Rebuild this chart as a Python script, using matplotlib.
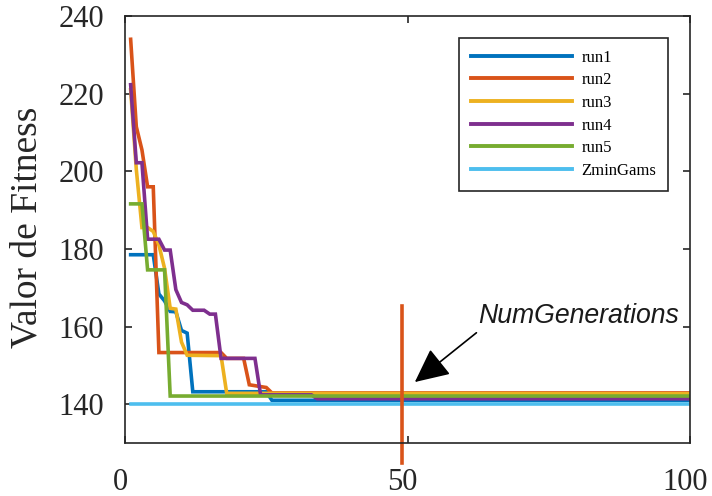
import matplotlib
matplotlib.use("Agg")
import matplotlib.pyplot as plt
import matplotlib.transforms as mtransforms

# ---- data ----
run1_gen = [1, 5, 6, 7, 8, 9, 10, 11, 12, 25, 26, 100]
run1_fit = [178.5, 178.5, 168.4, 166.6, 163.9, 163.8, 159.0, 158.3, 143.2, 143.2, 141.0, 141.0]

run2_gen = [1, 2, 3, 4, 5, 6, 17, 18, 21, 22, 25, 26, 100]
run2_fit = [234.0, 211.5, 205.5, 196.0, 196.0, 153.3, 153.3, 151.8, 151.8, 145.0, 144.3, 142.9, 142.9]

run3_gen = [1, 2, 3, 4, 5, 6, 7, 8, 9, 10, 11, 17, 18, 100]
run3_fit = [221.0, 200.5, 185.5, 185.5, 184.5, 181.0, 175.0, 164.7, 164.5, 156.0, 152.6, 152.5, 142.8, 142.7]

run4_gen = [1, 2, 3, 4, 6, 7, 8, 9, 10, 11, 12, 14, 15, 16, 17, 23, 24, 33, 34, 100]
run4_fit = [222.3, 202.2, 202.2, 182.5, 182.5, 179.7, 179.7, 169.5, 166.2, 165.6, 164.2, 164.2, 163.2, 163.2,
            151.8, 151.8, 142.4, 142.4, 141.4, 141.4]

run5_gen = [1, 3, 4, 7, 8, 100]
run5_fit = [191.6, 191.6, 174.6, 174.6, 142.1, 142.1]

zmin_gen = [1, 100]
zmin_fit = [140.0, 140.0]

labels = ["run1", "run2", "run3", "run4", "run5", "ZminGams"]
colors = ["#0072BD", "#D95319", "#EDB120", "#7E2F8E", "#77AC30", "#4DBEEE"]

num_generations = 49
marker_line_y = [124.8, 165.4]
annot_text = "NumGenerations"

x_ticks = [0, 50, 100]
y_ticks = [140, 160, 180, 200, 220, 240]

# ---- figure ----
fig = plt.figure(figsize=(7.12, 4.96), dpi=100)
ax = fig.add_axes([125/712, 1 - 443/496, (690 - 125)/712, (443 - 16)/496])

series = [(run1_gen, run1_fit), (run2_gen, run2_fit), (run3_gen, run3_fit),
          (run4_gen, run4_fit), (run5_gen, run5_fit), (zmin_gen, zmin_fit)]
for (g, f), lab, c in zip(series, labels, colors):
    ax.plot(g, f, color=c, lw=2.6, label=lab, solid_joinstyle="miter")

ax.plot([num_generations, num_generations], marker_line_y, color="#D95319", lw=2.6, clip_on=False)

ax.annotate("", xy=(51.3, 145.7), xytext=(62.2, 158.4),
            arrowprops=dict(arrowstyle="-|>,head_length=1.25,head_width=0.6", color="black", lw=1.2,
                            shrinkA=0, shrinkB=0, mutation_scale=17))
ax.text(62.5, 162.8, annot_text, fontsize=19.2, fontstyle="italic", family="Liberation Sans",
        va="center", ha="left", color="#1a1a1a")

ax.set_xlim(0, 100)
ax.set_ylim(130, 240)
ax.set_xticks(x_ticks)
ax.set_yticks(y_ticks)
ax.tick_params(direction="in", length=5, width=1.2, top=True, right=True,
               labelsize=22, colors="#262626")
ax.tick_params(axis="y", pad=15)
ax.tick_params(axis="x", pad=18)
for lab in ax.get_xticklabels() + ax.get_yticklabels():
    lab.set_family("Liberation Serif")
offset = mtransforms.ScaledTranslation(-5/100, 0, fig.dpi_scale_trans)
for lab in ax.get_xticklabels():
    lab.set_transform(lab.get_transform() + offset)
for s in ax.spines.values():
    s.set_linewidth(1.2)
    s.set_color("#262626")

ax.set_ylabel("Valor de Fitness", fontsize=27, family="Liberation Serif", color="#262626")
ax.yaxis.set_label_coords(-0.142, 0.505)

leg = ax.legend(loc="upper right", bbox_to_anchor=(668/712, 1 - 38/496),
                bbox_transform=fig.transFigure,
                prop={"family": "Liberation Serif", "size": 12},
                handlelength=6.1, handletextpad=0.55, labelspacing=0.4,
                borderpad=0.7, borderaxespad=0, fancybox=False, framealpha=1)
leg.get_frame().set_edgecolor("#262626")
leg.get_frame().set_linewidth(1.2)
for line in leg.get_lines():
    line.set_linewidth(2.8)

fig.savefig("out.png", dpi=100)
